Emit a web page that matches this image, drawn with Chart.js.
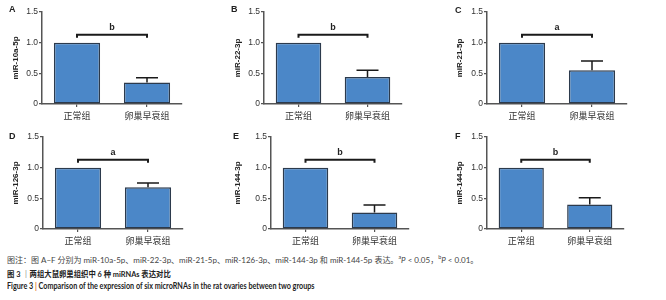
<!DOCTYPE html>
<html>
<head>
<meta charset="utf-8">
<script src="https://cdn.jsdelivr.net/npm/chart.js@4.4.1/dist/chart.umd.min.js"></script>
<style>
  body { margin: 0; width: 666px; height: 300px; background: #fff; position: relative; overflow: hidden; }
  .panel { position: absolute; width: 222px; height: 124px; }
  .tag { position: absolute; font: bold 9px "Liberation Sans", Arial, sans-serif; color: #222; }
  .cap { position: absolute; left: 7px; white-space: nowrap; color: #333; font-family: Lato, "Noto Sans CJK SC", sans-serif; transform-origin: left top; }
  .cap sup { font-size: 5.5px; }
  .bar { color: #e06a1c; font-weight: bold; }
</style>
</head>
<body>
<div class="panel" style="left:0;top:0"><canvas id="cA"></canvas></div>
<div class="panel" style="left:222px;top:0"><canvas id="cB"></canvas></div>
<div class="panel" style="left:444px;top:0"><canvas id="cC"></canvas></div>
<div class="panel" style="left:0;top:125px"><canvas id="cD"></canvas></div>
<div class="panel" style="left:222px;top:125px"><canvas id="cE"></canvas></div>
<div class="panel" style="left:444px;top:125px"><canvas id="cF"></canvas></div>
<div class="tag" style="left:9px;top:4px">A</div>
<div class="tag" style="left:231px;top:4px">B</div>
<div class="tag" style="left:455px;top:5px">C</div>
<div class="tag" style="left:9px;top:131px">D</div>
<div class="tag" style="left:233px;top:131px">E</div>
<div class="tag" style="left:455px;top:131px">F</div>
<div class="cap" style="top:254px;font-size:8px;color:#444">图注：图 A−F 分别为 miR-10a-5p、miR-22-3p、miR-21-5p、miR-126-3p、miR-144-3p 和 miR-144-5p 表达。<sup>a</sup><i>P</i> &lt; 0.05，<sup>b</sup><i>P</i> &lt; 0.01。</div>
<div class="cap" style="top:268px;font-size:8px;color:#222;font-weight:bold;transform:scaleX(0.92)">图 3 <span style="font-weight:normal">｜</span>两组大鼠卵巢组织中 6 种 miRNAs 表达对比</div>
<div class="cap" style="top:281px;font-size:8.5px;color:#222;font-weight:bold;transform:scaleX(0.85)">Figure 3 <span class="bar">|</span> Comparison of the expression of six microRNAs in the rat ovaries between two groups</div>
<script>
const groups = ['正常组', '卵巢早衰组'];
const yTickLabels = ['0', '0.5', '1.0', '1.5'];

const miR10a5p = [1.0, 0.35];
const miR10a5pSem = [0, 0.08];
const miR223p = [1.0, 0.44];
const miR223pSem = [0, 0.11];
const miR215p = [1.0, 0.55];
const miR215pSem = [0, 0.15];
const miR1263p = [1.0, 0.68];
const miR1263pSem = [0, 0.07];
const miR1443p = [1.0, 0.27];
const miR1443pSem = [0, 0.12];
const miR1445p = [1.0, 0.40];
const miR1445pSem = [0, 0.11];

const sigLetters = ['b', 'b', 'a', 'a', 'b', 'b'];
const bracketLevel = 1.13;
const bracketLeg = 1.08;
const letterLevel = 1.245;

const panels = [
    { id: 'cA', title: 'miR-10a-5p', values: miR10a5p, sem: miR10a5pSem, sig: sigLetters[0], left: 42, right: 182 },
    { id: 'cB', title: 'miR-22-3p', values: miR223p, sem: miR223pSem, sig: sigLetters[1], left: 42, right: 180 },
    { id: 'cC', title: 'miR-21-5p', values: miR215p, sem: miR215pSem, sig: sigLetters[2], left: 43, right: 183 },
    { id: 'cD', title: 'miR-126-3p', values: miR1263p, sem: miR1263pSem, sig: sigLetters[3], left: 43, right: 183 },
    { id: 'cE', title: 'miR-144-3p', values: miR1443p, sem: miR1443pSem, sig: sigLetters[4], left: 49, right: 187 },
    { id: 'cF', title: 'miR-144-5p', values: miR1445p, sem: miR1445pSem, sig: sigLetters[5], left: 43, right: 180 },
];

const axisColor = '#555';

// error bars + significance bracket, drawn from the scales
const annotate = {
    id: 'annotate',
    afterDatasetsDraw(chart, args, opts) {
        const { ctx } = chart;
        const x = chart.scales.x, y = chart.scales.y;
        const meta = chart.getDatasetMeta(0);
        ctx.save();
        ctx.strokeStyle = '#1a1a1a';
        ctx.lineWidth = 1.5;
        opts.values.forEach((v, i) => {
            if (!opts.sem[i]) return;
            const cx = meta.data[i].x;
            const yTop = y.getPixelForValue(v + opts.sem[i]);
            ctx.beginPath();
            ctx.moveTo(cx, y.getPixelForValue(v));
            ctx.lineTo(cx, yTop);
            ctx.moveTo(cx - 11, yTop);
            ctx.lineTo(cx + 11, yTop);
            ctx.stroke();
        });
        const x0 = x.getPixelForValue(0), x1 = x.getPixelForValue(1);
        const yb = y.getPixelForValue(bracketLevel), yl = y.getPixelForValue(bracketLeg);
        ctx.lineWidth = 2;
        ctx.beginPath();
        ctx.moveTo(x0, yl);
        ctx.lineTo(x0, yb);
        ctx.lineTo(x1, yb);
        ctx.lineTo(x1, yl);
        ctx.stroke();
        ctx.fillStyle = '#222';
        ctx.font = 'bold 9px "Liberation Sans", Arial, sans-serif';
        ctx.textAlign = 'center';
        ctx.textBaseline = 'middle';
        ctx.fillText(opts.sig, (x0 + x1) / 2, y.getPixelForValue(letterLevel));
        ctx.restore();
    },
};

panels.forEach((p) => {
    new Chart(document.getElementById(p.id), {
        type: 'bar',
        data: {
            labels: groups,
            datasets: [{
                data: p.values,
                backgroundColor: '#4b87c8',
                borderColor: '#2c3a4c',
                borderWidth: 1.5,
                borderSkipped: false,
                barPercentage: 0.66,
                categoryPercentage: 1.0,
            }],
        },
        plugins: [annotate],
        options: {
            responsive: true,
            maintainAspectRatio: false,
            animation: false,
            layout: { padding: { left: 7, right: 222 - p.right, top: 12, bottom: 0 } },
            plugins: {
                legend: { display: false },
                tooltip: { enabled: false },
                annotate: { values: p.values, sem: p.sem, sig: p.sig },
            },
            scales: {
                x: {
                    afterFit: (s) => { s.height = 20; },
                    grid: { offset: false, drawOnChartArea: false, drawTicks: true, tickLength: 3, color: axisColor, lineWidth: 1.2 },
                    border: { display: true, color: axisColor, width: 1.5 },
                    ticks: {
                        color: '#333',
                        padding: 3,
                        font: { size: 9, family: '"Noto Sans CJK SC", sans-serif' },
                    },
                },
                y: {
                    min: 0,
                    max: 1.5,
                    afterFit: (s) => { s.width = p.left - 7; },
                    grid: { drawOnChartArea: false, drawTicks: true, tickLength: 3, color: axisColor, lineWidth: 1.2 },
                    border: { display: true, color: axisColor, width: 1.5 },
                    ticks: {
                        stepSize: 0.5,
                        padding: 1,
                        color: '#333',
                        font: { size: 8.5, family: '"Liberation Sans", Arial, sans-serif' },
                        callback: (value, index) => yTickLabels[index],
                    },
                    title: {
                        display: true,
                        text: p.title,
                        color: '#222',
                        padding: { top: 4, bottom: 2 },
                        font: { size: 8, weight: 'bold', family: '"Liberation Sans", Arial, sans-serif' },
                    },
                },
            },
        },
    });
});
</script>
</body>
</html>
